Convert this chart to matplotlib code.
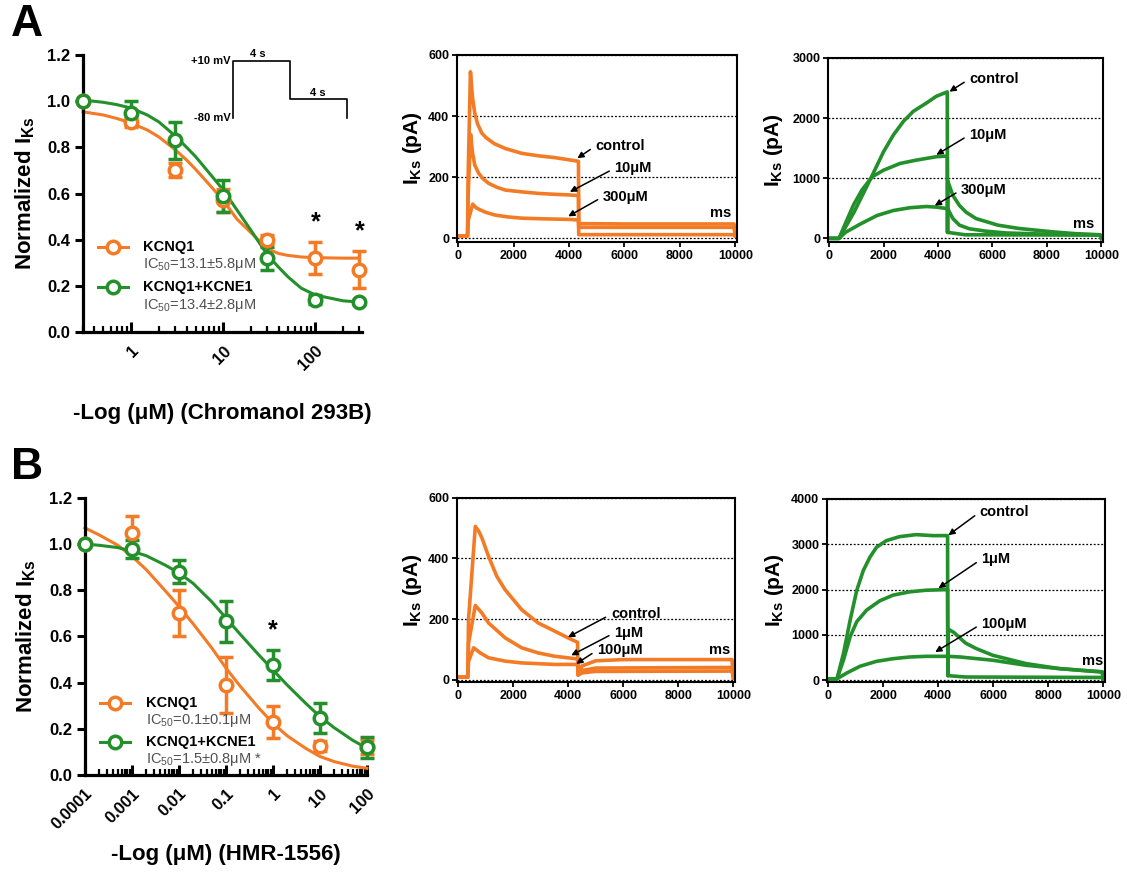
import numpy as np
import matplotlib
matplotlib.use("Agg")
import matplotlib.pyplot as plt
from matplotlib.ticker import LogLocator, NullFormatter

plt.rcParams['font.family'] = ['Liberation Sans', 'DejaVu Sans']
plt.rcParams['font.weight'] = 'bold'
plt.rcParams['mathtext.default'] = 'regular'

ORANGE = '#F47B26'
GREEN = '#23902B'
GRAY = '#505050'

# ---------------- dose-response data ----------------
# A: Chromanol 293B (uM)
conc_a = [0.3, 1, 3, 10, 30, 100, 300]
kcnq1_a = [1.0, 0.91, 0.70, 0.57, 0.40, 0.32, 0.27]
kcnq1_a_err = [0.0, 0.02, 0.03, 0.05, 0.02, 0.07, 0.08]
kcne1_a = [1.0, 0.95, 0.83, 0.59, 0.32, 0.14, 0.13]
kcne1_a_err = [0.0, 0.05, 0.08, 0.07, 0.05, 0.02, 0.01]
stars_a = [5, 6]  # indices marked with *

fit_x_a = [0.3, 0.5, 0.7, 1, 1.5, 2, 3, 4, 5, 7, 10, 14, 20, 30, 40, 50, 70, 100, 200, 300]
fit_kcnq1_a = [0.954, 0.940, 0.925, 0.905, 0.875, 0.845, 0.79, 0.745, 0.705, 0.64, 0.57,
               0.49, 0.43, 0.36, 0.34, 0.332, 0.325, 0.322, 0.32, 0.32]
fit_kcne1_a = [1.005, 0.995, 0.985, 0.97, 0.94, 0.91, 0.85, 0.80, 0.76, 0.69, 0.615,
               0.53, 0.44, 0.335, 0.28, 0.24, 0.19, 0.16, 0.135, 0.13]

# B: HMR-1556 (uM)
conc_b = [1e-4, 1e-3, 0.01, 0.1, 1, 10, 100]
kcnq1_b = [1.0, 1.05, 0.70, 0.39, 0.23, 0.125, 0.12]
kcnq1_b_err = [0.0, 0.07, 0.10, 0.12, 0.07, 0.02, 0.03]
kcne1_b = [1.0, 0.98, 0.88, 0.665, 0.475, 0.245, 0.12]
kcne1_b_err = [0.0, 0.04, 0.05, 0.09, 0.065, 0.065, 0.045]
stars_b = [4]

fit_x_b = [1e-4, 2e-4, 5e-4, 1e-3, 2e-3, 5e-3, 0.01, 0.02, 0.05, 0.1, 0.2, 0.5,
           1, 2, 5, 10, 20, 50, 100]
fit_kcnq1_b = [1.07, 1.04, 0.995, 0.947, 0.89, 0.80, 0.73, 0.655, 0.55, 0.463, 0.385,
               0.29, 0.224, 0.17, 0.115, 0.08, 0.058, 0.038, 0.029]
fit_kcne1_b = [1.0, 0.995, 0.985, 0.969, 0.95, 0.91, 0.875, 0.83, 0.75, 0.68, 0.61,
               0.52, 0.455, 0.39, 0.31, 0.253, 0.205, 0.15, 0.116]

# voltage protocol (s, mV)
proto_t = [0, 0, 4, 4, 8, 8]
proto_v = [-80, 10, 10, -50, -50, -80]

# ---------------- current traces (ms, pA) ----------------
# A middle: KCNQ1, chromanol 293B
a_ctrl_t = [0, 340, 360, 445, 520, 600, 700, 850, 1000, 1300, 1700, 2300, 2900, 3500,
            4000, 4340, 4350, 4600, 6000, 8000, 9950, 10000]
a_ctrl_i = [8, 8, 200, 545, 460, 410, 375, 345, 330, 310, 294, 278, 270, 264,
            257, 252, 48, 48, 47, 47, 47, 8]
a_10_t = [0, 340, 365, 450, 520, 600, 740, 900, 1100, 1400, 1700, 2300, 2900, 3500,
          4000, 4340, 4350, 6000, 9950, 10000]
a_10_i = [8, 8, 150, 340, 280, 240, 213, 195, 180, 167, 158, 152, 147, 144,
          142, 140, 36, 36, 36, 8]
a_300_t = [0, 340, 370, 525, 650, 800, 1000, 1340, 1800, 2300, 3000, 4000, 4340, 4350,
           6000, 9950, 10000]
a_300_i = [8, 8, 60, 112, 100, 93, 85, 76, 70, 66, 64, 62, 60, 12,
           12, 12, 8]

# A right: KCNQ1+KCNE1, chromanol 293B
ar_ctrl_t = [0, 364, 909, 1576, 2000, 2364, 2727, 3091, 3576, 3939, 4340, 4350, 4360,
             4545, 4788, 5030, 5394, 5760, 6200, 6970, 8180, 9000, 9950, 10000]
ar_ctrl_i = [0, 0, 430, 1040, 1441, 1721, 1944, 2112, 2251, 2363, 2436, 100, 950,
             715, 547, 436, 330, 280, 220, 165, 110, 80, 60, 0]
ar_10_t = [0, 364, 600, 900, 1200, 1576, 2000, 2606, 3212, 3939, 4340, 4350, 5000,
           9950, 10000]
ar_10_i = [0, 0, 250, 560, 800, 1022, 1134, 1246, 1302, 1358, 1369, 100, 60,
           55, 0]
ar_300_t = [0, 364, 600, 1152, 1758, 2364, 2970, 3576, 3939, 4340, 4350, 4545, 4788,
            5150, 5760, 6500, 8000, 9950, 10000]
ar_300_i = [0, 0, 100, 240, 380, 464, 510, 530, 520, 495, 500, 330, 220,
            160, 120, 90, 70, 58, 0]

# B middle: KCNQ1, HMR-1556
b_ctrl_t = [0, 350, 380, 625, 750, 865, 1106, 1406, 1707, 2308, 2909, 3510, 3990, 4340,
            4360, 4500, 5000, 6000, 9950, 10000]
b_ctrl_i = [8, 8, 200, 506, 490, 468, 407, 341, 297, 231, 187, 160, 138, 123,
            15, 45, 62, 66, 66, 5]
b_1_t = [0, 350, 380, 625, 865, 1106, 1707, 2308, 2909, 3510, 4340, 4360, 4500, 5000,
         9950, 10000]
b_1_i = [8, 8, 120, 245, 220, 187, 138, 105, 88, 77, 68, 15, 30, 38,
         40, 5]
b_100_t = [0, 350, 380, 565, 805, 1106, 1707, 2308, 3510, 4340, 4360, 4500, 5000,
           9950, 10000]
b_100_i = [8, 8, 60, 105, 88, 72, 61, 55, 50, 50, 15, 22, 27,
           28, 5]

# B right: KCNQ1+KCNE1, HMR-1556
br_ctrl_t = [0, 323, 563, 802, 1042, 1281, 1521, 1760, 2120, 2599, 3198, 3796, 4340,
             4350, 4370, 4575, 4790, 4994, 5390, 5990, 7190, 8390, 9590, 9960, 10000]
br_ctrl_i = [30, 30, 600, 1328, 1985, 2423, 2715, 2934, 3080, 3168, 3212, 3190, 3190,
             100, 1124, 1051, 929, 818, 695, 548, 366, 256, 197, 183, 0]
br_1_t = [0, 323, 563, 802, 1042, 1401, 1880, 2359, 2958, 3557, 4340, 4350, 5000,
          9950, 10000]
br_1_i = [30, 30, 452, 963, 1292, 1547, 1752, 1876, 1949, 1985, 2000, 100, 70,
          60, 0]
br_100_t = [0, 323, 683, 1162, 1760, 2359, 2958, 3557, 4340, 4790, 5990, 7190, 8390,
            9960, 10000]
br_100_i = [30, 30, 160, 307, 416, 474, 511, 526, 526, 512, 439, 329, 256,
            183, 0]


def dose_panel(ax, conc, q1, q1e, qe, qee, fx, fq1, fqe, stars, xlim, xticks, xlabels,
               ic50s, xlabel, xlabel_y, legend_y):
    ax.plot(fx, fq1, color=ORANGE, lw=2.2, clip_on=False, zorder=2)
    ax.plot(fx, fqe, color=GREEN, lw=2.2, clip_on=False, zorder=2)
    for y, e, c in ((q1, q1e, ORANGE), (qe, qee, GREEN)):
        ax.errorbar(conc, y, yerr=e, fmt='o', color=c, mfc='white', mec=c, ms=9, mew=2.5,
                    elinewidth=2.5, capsize=5, capthick=2.5, clip_on=False, zorder=3)
    # star sits above the higher of the two error bars
    for k in stars:
        top = max(q1[k] + q1e[k], qe[k] + qee[k])
        ax.text(conc[k], top + 0.035, '*', ha='center', va='bottom',
                fontsize=18, fontweight='bold')
    ax.set_xscale('log')
    ax.set_xlim(*xlim)
    ax.set_ylim(0, 1.2)
    ax.set_yticks(np.arange(0, 1.21, 0.2))
    ax.set_yticklabels([f'{v:.1f}' for v in np.arange(0, 1.21, 0.2)])
    ax.set_xticks(xticks)
    ax.set_xticklabels(xlabels, rotation=45, ha='right', rotation_mode='anchor')
    ax.xaxis.set_minor_locator(LogLocator(base=10, subs=np.arange(2, 10), numticks=20))
    ax.xaxis.set_minor_formatter(NullFormatter())
    for s in ('top', 'right'):
        ax.spines[s].set_visible(False)
    for s in ('left', 'bottom'):
        ax.spines[s].set_linewidth(2.3)
    ax.tick_params(axis='y', direction='out', length=6, width=2.2, labelsize=12, pad=3)
    ax.tick_params(axis='x', which='major', direction='in', length=7, width=2.2,
                   labelsize=12, pad=8)
    ax.tick_params(axis='x', which='minor', direction='in', length=4, width=1.6)
    ax.set_ylabel('Normalized I$_{Ks}$', fontsize=16, fontweight='bold')
    ax.yaxis.set_label_coords(-0.165, 0.5)
    ax.set_xlabel(xlabel, fontsize=16, fontweight='bold')
    ax.xaxis.set_label_coords(0.5, xlabel_y)

    # legend drawn by hand
    y1, y2 = legend_y
    for yy, c in ((y1, ORANGE), (y2, GREEN)):
        ax.plot([0.055, 0.16], [yy, yy], color=c, lw=2.2, transform=ax.transAxes,
                clip_on=False)
        ax.plot([0.107], [yy], 'o', color=c, mfc='white', mew=2.5, ms=9,
                transform=ax.transAxes, clip_on=False)
    ax.text(0.215, y1, 'KCNQ1', transform=ax.transAxes, va='center', fontsize=10.5,
            fontweight='bold')
    ax.text(0.215, y1 - 0.065, ic50s[0], transform=ax.transAxes, va='center',
            fontsize=10.5, fontweight='normal', color=GRAY)
    ax.text(0.215, y2, 'KCNQ1+KCNE1', transform=ax.transAxes, va='center', fontsize=10.5,
            fontweight='bold')
    ax.text(0.215, y2 - 0.065, ic50s[1], transform=ax.transAxes, va='center',
            fontsize=10.5, fontweight='normal', color=GRAY)


def trace_panel(ax, traces, color, ylim, yticks, ylabel_x, notes, ms_pos):
    for t, i in traces:
        ax.plot(t, i, color=color, lw=2.6, solid_joinstyle='round')
    ax.set_xlim(-40, 10060)
    ax.set_ylim(*ylim)
    ax.set_xticks(np.arange(0, 10001, 2000))
    ax.set_yticks(yticks)
    ax.yaxis.grid(True, linestyle=(0, (1.5, 1.5)), color='k', lw=0.9)
    ax.set_axisbelow(True)
    for s in ax.spines.values():
        s.set_linewidth(1.5)
    ax.tick_params(direction='out', length=3.5, width=1.3, labelsize=9, pad=2)
    ax.set_ylabel('I$_{Ks}$ (pA)', fontsize=15, fontweight='bold')
    ax.yaxis.set_label_coords(ylabel_x, 0.5)
    for txt, xy, xytext in notes:
        ax.annotate(txt, xy=xy, xytext=xytext, ha='left', va='center', fontsize=10.5,
                    fontweight='bold',
                    arrowprops=dict(arrowstyle='-|>', color='k', lw=1.1,
                                    mutation_scale=9, relpos=(0, 0.5),
                                    shrinkA=2, shrinkB=0))
    ax.text(ms_pos[0], ms_pos[1], 'ms', ha='left', va='center', fontsize=10.5,
            fontweight='bold')


fig = plt.figure(figsize=(11.27, 8.73), dpi=100)

# ---- panel A ----
ax_a = fig.add_axes([0.0736, 0.6197, 0.2476, 0.3173])
dose_panel(ax_a, conc_a, kcnq1_a, kcnq1_a_err, kcne1_a, kcne1_a_err,
           fit_x_a, fit_kcnq1_a, fit_kcne1_a, stars_a, (0.3, 320), [1, 10, 100],
           ['1', '10', '100'],
           ['IC$_{50}$=13.1\u00b15.8\u03bcM', 'IC$_{50}$=13.4\u00b12.8\u03bcM'],
           '-Log (\u03bcM) (Chromanol 293B)', -0.255, (0.307, 0.162))

ax_p = fig.add_axes([0.2067, 0.8648, 0.1012, 0.0653])
ax_p.plot(proto_t, proto_v, color='k', lw=1.2, clip_on=False)
ax_p.set_xlim(0, 8)
ax_p.set_ylim(-80, 10)
ax_p.axis('off')
ax_p.text(-0.02, 1.0, '+10 mV', transform=ax_p.transAxes, ha='right', va='center',
          fontsize=8, fontweight='bold')
ax_p.text(-0.02, 0.0, '-80 mV', transform=ax_p.transAxes, ha='right', va='center',
          fontsize=8, fontweight='bold')
ax_p.text(0.22, 1.04, '4 s', transform=ax_p.transAxes, ha='center', va='bottom',
          fontsize=8, fontweight='bold')
ax_p.text(0.745, 0.36, '4 s', transform=ax_p.transAxes, ha='center', va='bottom',
          fontsize=8, fontweight='bold')

ax_am = fig.add_axes([0.4055, 0.7228, 0.2485, 0.2142])
trace_panel(ax_am, [(a_ctrl_t, a_ctrl_i), (a_10_t, a_10_i), (a_300_t, a_300_i)], ORANGE,
            (-12, 600), [0, 200, 400, 600], -0.118,
            [('control', (4300, 262), (4950, 302)),
             ('10\u03bcM', (4030, 152), (5640, 229)),
             ('300\u03bcM', (3970, 72), (5220, 136))],
            (9100, 82))

ax_ar = fig.add_axes([0.7347, 0.7228, 0.244, 0.2108])
trace_panel(ax_ar, [(ar_ctrl_t, ar_ctrl_i), (ar_10_t, ar_10_i), (ar_300_t, ar_300_i)],
            GREEN, (-60, 3000), [0, 1000, 2000, 3000], -0.155,
            [('control', (4420, 2440), (5150, 2650)),
             ('10\u03bcM', (3940, 1390), (5150, 1720)),
             ('300\u03bcM', (3880, 545), (4850, 805))],
            (8970, 240))

# ---- panel B ----
ax_b = fig.add_axes([0.0754, 0.1123, 0.2502, 0.3173])
dose_panel(ax_b, conc_b, kcnq1_b, kcnq1_b_err, kcne1_b, kcne1_b_err,
           fit_x_b, fit_kcnq1_b, fit_kcne1_b, stars_b, (1e-4, 100),
           [1e-4, 1e-3, 0.01, 0.1, 1, 10, 100],
           ['0.0001', '0.001', '0.01', '0.1', '1', '10', '100'],
           ['IC$_{50}$=0.1\u00b10.1\u03bcM', 'IC$_{50}$=1.5\u00b10.8\u03bcM *'],
           '-Log (\u03bcM) (HMR-1556)', -0.25, (0.26, 0.12))

ax_bm = fig.add_axes([0.4055, 0.2188, 0.2467, 0.2108])
trace_panel(ax_bm, [(b_ctrl_t, b_ctrl_i), (b_1_t, b_1_i), (b_100_t, b_100_i)], ORANGE,
            (-8, 600), [0, 200, 400, 600], -0.118,
            [('control', (3990, 140), (5550, 215)),
             ('1\u03bcM', (4110, 80), (5670, 154)),
             ('100\u03bcM', (4290, 52), (5050, 97))],
            (9100, 97))

ax_br = fig.add_axes([0.7338, 0.2188, 0.2467, 0.2097])
trace_panel(ax_br, [(br_ctrl_t, br_ctrl_i), (br_1_t, br_1_i), (br_100_t, br_100_i)],
            GREEN, (-40, 4000), [0, 1000, 2000, 3000, 4000], -0.147,
            [('control', (4370, 3200), (5510, 3710)),
             ('1\u03bcM', (4010, 2030), (5570, 2670)),
             ('100\u03bcM', (3890, 620), (5570, 1240))],
            (9220, 420))

fig.text(0.024, 0.972, 'A', fontsize=32, fontweight='bold', va='center', ha='center')
fig.text(0.024, 0.464, 'B', fontsize=32, fontweight='bold', va='center', ha='center')

fig.savefig('out.png', dpi=100, facecolor='white')
